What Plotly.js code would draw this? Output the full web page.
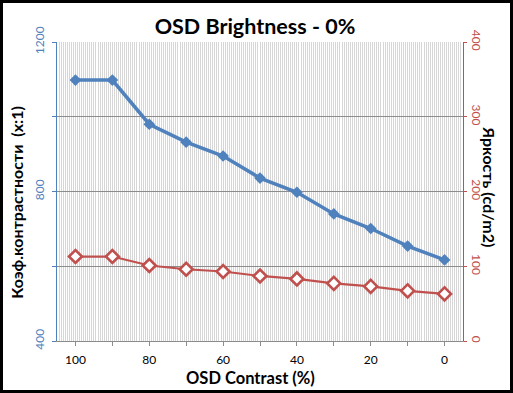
<!DOCTYPE html>
<html>
<head>
<meta charset="utf-8">
<script src="https://cdn.plot.ly/plotly-3.0.1.min.js"></script>
<style>
html,body{margin:0;padding:0;background:#fff;}
#chart{width:507px;height:387px;border:3px solid #000;}
</style>
</head>
<body>
<div id="chart"></div>
<script>
// Data
const contrast = [100, 90, 80, 70, 60, 50, 40, 30, 20, 10, 0];
const contrastRatio = [1098, 1098, 980, 932, 895, 836, 798, 740, 701, 654, 617];
const brightness = [113, 113, 101, 96, 93, 87, 83, 77, 73, 67, 63];
const xTickVals = [100, 90, 80, 70, 60, 50, 40, 30, 20, 10, 0];
const xTickText = ['100', '', '80', '', '60', '', '40', '', '20', '', '0'];
const xBoundaries = [95, 85, 75, 65, 55, 45, 35, 25, 15, 5];
const yLeftVals = [400, 600, 800, 1000, 1200];
const yLeftText = ['400', '', '800', '', '1200'];
const yRightVals = [0, 100, 200, 300, 400];
const yRightText = ['0', '100', '200', '300', '400'];

const FONT = 'Lato, "Open Sans", sans-serif';
const BLUE = '#4f81bd';
const RED = '#c0504d';
const GRID = '#8c8c8c';

const traces = [
  {
    x: contrast, y: contrastRatio, type: 'scatter', mode: 'lines+markers',
    xaxis: 'x', yaxis: 'y',
    line: {color: BLUE, width: 3.5},
    marker: {symbol: 'diamond', size: 9, color: BLUE},
    showlegend: false, hoverinfo: 'none'
  },
  {
    x: contrast, y: brightness, type: 'scatter', mode: 'lines+markers',
    xaxis: 'x', yaxis: 'y2',
    line: {color: RED, width: 2.2},
    marker: {symbol: 'diamond', size: 10, color: '#fff', line: {color: RED, width: 2.6}},
    showlegend: false, hoverinfo: 'none'
  }
];

const layout = {
  width: 507, height: 387,
  margin: {l: 54, r: 47, t: 39, b: 49},
  paper_bgcolor: '#fff', plot_bgcolor: '#fff',
  font: {family: FONT, color: '#000'},
  title: {
    text: '<b>OSD Brightness - 0%</b>',
    font: {family: FONT, size: 21.5, color: '#000'},
    x: 0.497, xanchor: 'center', xref: 'container',
    y: 0.94, yanchor: 'middle', yref: 'container'
  },
  xaxis: {
    range: [105, -5], autorange: false,
    tickmode: 'array', tickvals: xTickVals, ticktext: xTickText,
    ticks: 'outside', ticklen: 4, tickcolor: GRID, tickwidth: 1,
    tickfont: {family: FONT, size: 12, color: '#000'},
    ticklabelstandoff: 4,
    showgrid: false, zeroline: false,
    showline: true, linecolor: GRID, linewidth: 1,
    minor: {tick0: -5, dtick: 10 / 18, showgrid: true, gridcolor: '#d6d6d6', gridwidth: 1, ticks: ''}
  },
  xaxis2: {
    overlaying: 'x', anchor: 'y', side: 'bottom',
    range: [105, -5], autorange: false,
    tickmode: 'array', tickvals: xBoundaries,
    showticklabels: false, ticks: '',
    showgrid: true, gridcolor: GRID, gridwidth: 1,
    zeroline: false, showline: false
  },
  yaxis: {
    range: [400, 1200], autorange: false,
    tickmode: 'array', tickvals: yLeftVals, ticktext: yLeftText,
    tickangle: -90,
    ticks: 'outside', ticklen: 4, tickcolor: BLUE,
    tickfont: {family: FONT, size: 12, color: BLUE},
    ticklabelstandoff: 3,
    showgrid: true, gridcolor: GRID, gridwidth: 1,
    zeroline: false, showline: true, linecolor: BLUE, linewidth: 1
  },
  yaxis2: {
    overlaying: 'y', side: 'right', anchor: 'x',
    range: [0, 400], autorange: false,
    tickmode: 'array', tickvals: yRightVals, ticktext: yRightText,
    tickangle: 90,
    ticks: 'outside', ticklen: 3, tickcolor: RED,
    tickfont: {family: FONT, size: 12, color: RED},
    ticklabelstandoff: 0,
    showgrid: false, zeroline: false,
    showline: true, linecolor: RED, linewidth: 1
  },
  annotations: [
    {text: '<b>OSD Contrast (%)</b>', xref: 'paper', yref: 'paper', x: 0.4766, y: -0.1237,
     xanchor: 'center', yanchor: 'middle', showarrow: false, font: {family: FONT, size: 16.5, color: '#000'}},
    {text: '<b>Коэф.контрастности  (x:1)</b>', xref: 'paper', yref: 'paper', x: -0.0985, y: 0.462,
     xanchor: 'center', yanchor: 'middle', textangle: -90, showarrow: false, font: {family: FONT, size: 16, color: '#000'}},
    {text: '<b>Яркость (cd/m2)</b>', xref: 'paper', yref: 'paper', x: 1.066, y: 0.515,
     xanchor: 'center', yanchor: 'middle', textangle: 90, showarrow: false, font: {family: FONT, size: 16, color: '#000'}}
  ]
};

Plotly.newPlot('chart', traces, layout, {displayModeBar: false, staticPlot: true});
</script>
</body>
</html>
